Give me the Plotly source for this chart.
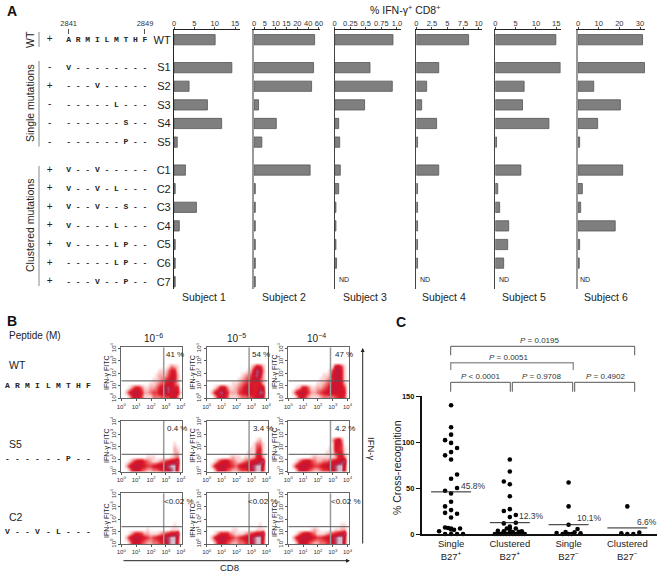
# Cross-recognition figure: bar panels (A), flow plots (B), dot plot (C)
import plotly.graph_objects as go
import numpy as np

W, H = 666, 578
FONT = "Liberation Sans"
MONO = "Liberation Mono"

# --- panel A data
row_names = ["WT", "S1", "S2", "S3", "S4", "S5", "C1", "C2", "C3", "C4", "C5", "C6", "C7"]
row_pos = [0, 1.5, 2.5, 3.5, 4.5, 5.5, 7, 8, 9, 10, 11, 12, 13]
row_signs = ["+", "-", "+", "-", "-", "-", "+", "+", "+", "+", "+", "+", "+"]
row_seqs = ["ARMILMTHF", "V--------", "---V-----", "-----L---", "------S--", "------P--",
            "V--V-----", "V--V-L---", "V--V--S--", "V----L---", "V----LP--", "-----LP--", "---V--P--"]

subject_1 = [10.1, 14.2, 3.7, 8.2, 11.7, 0.8, 2.8, 0.3, 5.5, 1.3, 0.3, 0.3, 0.3]
subject_2 = [52, 50, 46.4, 2.1, 10.3, 3.6, 43.7, 0.6, 0.6, 0.6, 0.6, 0.6, 0.6]
subject_3 = [0.936, 0.567, 0.925, 0.48, 0.064, 0.08, 0.09, 0.064, 0.02, 0.02, 0.02, 0.03, None]
subject_4 = [8.4, 3.6, 1.66, 0.86, 3.26, 0.2, 3.6, 0.2, 0.2, 0.2, 0.2, 0.2, None]
subject_5 = [14.9, 16.0, 7.1, 6.7, 13.2, 0.3, 6.3, 0.6, 1.07, 3.3, 3.05, 2.06, None]
subject_6 = [31.2, 32.2, 7.6, 20.5, 9.5, 0.8, 21.6, 2.1, 1.3, 18, 0.8, 0.6, None]

# subject 2 has a broken scale, so its ticks are evenly spaced by index
subject_2_ticks = [0, 5, 10, 15, 20, 40, 60]

# --- panel B data: density read per cell, top row first, 0 empty .. 9 densest
gate_x = 2.85
gate_y = 1.4
flow_ticks = [0, 1, 2, 3, 4]
E = "00000000000000000000"
flow_wt_6 = [E, E, E, E,
             "00000000000000013210", "00000000000011135510", "00000000000122246620",
             "00000000001123457520", "00000000011234566420", "00135531122356786550",
             "02577752234467685761", "00257641113334446730"]
flow_wt_5 = [E, E, E, E,
             "00000000000000136520", "00000000000001268730", "00000000000123478620",
             "00000000001234567420", "00000000112345555520", "00136631123467655760",
             "02578752224567656880", "00257641112334456760"]
flow_wt_4 = [E, E, E, E,
             "00000000000000167410", "00000000000001477510", "00000000000112677510",
             "00000000001123577510", "00000000011234666520", "00125531122346776640",
             "02577642234567666650", "00256421112333345640"]
flow_s5_6 = [E, E, E, E, E,
             "00000000000000000100", "00000000000000000210", "00000000000000000220",
             "00000000111000001230", "00135664321123456680",
             "02577765445677789960", "00257643223345678950"]
flow_s5_5 = [E, E, E, E,
             "00000000000000001200", "00000000000000013310", "00000000000000114510",
             "00000000000001115510", "00000001211011125620", "00135664321234566780",
             "02577765435677789960", "00257643223445689950"]
flow_s5_4 = [E, E, E, E,
             "00000000000000257300", "00000000000000166400", "00000000000001165410",
             "00000000000011145510", "00000001211111125630", "00135664322334566780",
             "02577765445677789960", "00257643223445689950"]
flow_c2_6 = [E, E, E, E, E, E, E,
             "00000000000000000100", "00000000100000001110", "00135542211123456680",
             "02577765434567789960", "00257643223345689950"]
flow_c2_5 = [E, E, E, E, E, E, E,
             "00000000000000000100", "00000000110000001110", "00135553211123456680",
             "02577765434567789960", "00257643223345689950"]
flow_c2_4 = [E, E, E, E, E, E, E,
             "00000000000000000110", "00000001210000011220", "00135664311123456680",
             "02577776544567789960", "00257643223345689950"]
flow_pct = ["41 %", "54 %", "47 %", "0.4 %", "3.4 %", "4.2 %", "&lt;0.02 %", "&lt;0.02 %", "&lt;0.02 %"]

# --- panel C data
c_cats = ["Single<br>B27<sup>+</sup>", "Clustered<br>B27<sup>+</sup>",
          "Single<br>B27<sup>\u2212</sup>", "Clustered<br>B27<sup>\u2212</sup>"]
c_means = [45.8, 12.3, 10.1, 6.6]
single_pos = [140, 116, 108, 102, 99, 93.5, 89, 85.5, 81, 64.6, 60, 50, 47, 44, 35, 30, 26, 23, 22, 18,
              7, 6.5, 5, 6, 3, 6, 4.5, 0, 0, 0, 0]
single_pos_slot = [0, 0, 0, -2, 0, 2, 0, -2, 0, 2, 0, 2, -2, 0, 0, -2, 0, -2, 2, 0,
                   -2, -1, 0, 3, -4, 0, 1, -2, 0, 2, 4]
clustered_pos = [81, 68, 57, 54, 41, 27, 25, 20.6, 18.4, 11.5, 12.3, 8, 6, 6, 6, 3.6, 3, 3,
                 0, 0, 0, 0, 0, 0, 0, 0, 0, 0, 0, 2, 2, 2, 2.5]
clustered_pos_slot = [0, 0, -2, 0, 0, 0, -2, 2, 0, -2, 2, 0, -1, 2, 0, -4, -2, 4,
                      -5, -4, -3, -2, -1, 0, 1, 2, 3, 4, 5, -2, 0, 1, 3]
single_neg = [56, 30, 10, 5.5, 1, 2, 1.8, 0, 0, 0, 0.7]
single_neg_slot = [0, 0, 0, 3, -4, -1, 2, -2, 0, 1, 4]
clustered_neg = [30, 0.7, 0, 0, 1.5]
clustered_neg_slot = [0, -2, 0, 2, 4]


def px(x):
    return x / W


def py(y):
    return 1 - y / H


fig = go.Figure()
annotations = []
shapes = []
axis_count = 0


def new_axes(x0, x1, y0, y1, xopts, yopts):
    # one pair of axes placed by pixel box
    global axis_count
    axis_count += 1
    n = "" if axis_count == 1 else str(axis_count)
    xopts = dict(xopts, domain=[px(x0), px(x1)], anchor="y" + n)
    yopts = dict(yopts, domain=[py(y1), py(y0)], anchor="x" + n)
    fig.update_layout(**{"xaxis" + n: xopts, "yaxis" + n: yopts})
    return "x" + n, "y" + n


def label(x, y, text, size=10, color="#222", xanchor="center", angle=0, **kw):
    annotations.append(dict(x=px(x), y=py(y), xref="paper", yref="paper", text=text, showarrow=False,
                            xanchor=xanchor, yanchor="middle", textangle=angle,
                            font=dict(size=size, color=color, family=kw.get("family", FONT),
                                      weight=kw.get("weight", "normal"))))


def line(x0, y0, x1, y1, color="#555", width=1):
    shapes.append(dict(type="line", xref="paper", yref="paper", x0=px(x0), y0=py(y0), x1=px(x1), y1=py(y1),
                       line=dict(color=color, width=width)))


def bracket(x0, x1, top, bottom, color="#555", width=1):
    shapes.append(dict(type="path", xref="paper", yref="paper",
                       path=f"M {px(x0)} {py(bottom)} L {px(x0)} {py(top)} L {px(x1)} {py(top)} L {px(x1)} {py(bottom)}",
                       line=dict(color=color, width=width)))


# --- A: bars
row_top, row_bottom = 29.5, 289
row_range = [13.39, -0.548]
subject_2_x = [None if v is None else float(np.interp(v, subject_2_ticks, range(len(subject_2_ticks))))
               for v in subject_2]
panels = [
    (subject_1, 174, 240, 16.2, [0, 5, 10, 15], ["0", "5", "10", "15"], "#222", 1.2),
    (subject_2_x, 254, 319.5, 6.05, list(range(7)), [str(t) for t in subject_2_ticks], "#999", 1.6),
    (subject_3, 334.7, 400.7, 1.06, [0, 0.25, 0.5, 0.75, 1], ["0", "0.25", "0.5", "0.75", "1.0"], "#444", 1.2),
    (subject_4, 416.3, 481.7, 10.5, [0, 2.5, 5, 7.5, 10], ["0", "2.5", "5", "7.5", "10"], "#444", 1.2),
    (subject_5, 495.3, 560.7, 16.1, [0, 5, 10, 15], ["0", "5", "10", "15"], "#444", 1.2),
    (subject_6, 578, 645, 32.4, [0, 10, 20, 30], ["0", "10", "20", "30"], "#999", 1.6),
]
for i, (vals, x0, x1, xmax, tv, tt, col, lw) in enumerate(panels):
    yopts = dict(range=row_range, showgrid=False, zeroline=False, showline=True, linecolor=col, linewidth=lw,
                 tickvals=row_pos, ticktext=row_names if i == 0 else None, showticklabels=i == 0,
                 ticks="", tickfont=dict(size=11, color="#222"))
    xopts = dict(range=[0, xmax], side="top", showgrid=False, zeroline=False, showline=True, linecolor="#222",
                 linewidth=1, ticks="outside", ticklen=2, tickwidth=0.7, tickcolor="#444", tickvals=tv, ticktext=tt,
                 ticklabelstandoff=-2, tickfont=dict(size=7.5, color="#333"))
    xa, ya = new_axes(x0, x1, row_top, row_bottom, xopts, yopts)
    fig.add_trace(go.Bar(x=vals, y=row_pos, orientation="h", width=0.55, xaxis=xa, yaxis=ya,
                         marker=dict(color="#7f7f7f", line=dict(color="#555", width=0.8))))

# peptide table on its own scale of residue numbers
xa, ya = new_axes(40.1, 154.5, row_top, row_bottom,
                  dict(range=[2838, 2850], side="top", showgrid=False, zeroline=False, showline=False,
                       ticks="outside", ticklen=5, tickwidth=0.7, tickcolor="#555", tickvals=[2841, 2849],
                       tickformat="d", tickfont=dict(size=7.5, color="#333")),
                  dict(range=row_range, visible=False))
fig.update_layout(**{"xaxis" + xa[1:]: dict(anchor="free", position=py(34))})
res_x, res_y, res_t = [], [], []
for pos, seq in zip(row_pos, row_seqs):
    for j, ch in enumerate(seq):
        res_x.append(2841 + j)
        res_y.append(pos)
        res_t.append(ch)
fig.add_trace(go.Scatter(x=res_x, y=res_y, text=res_t, mode="text", xaxis=xa, yaxis=ya,
                         textfont=dict(family=MONO, size=8, color="#222", weight="bold")))
fig.add_trace(go.Scatter(x=[2839] * len(row_pos), y=row_pos, text=row_signs, mode="text", xaxis=xa, yaxis=ya,
                         textfont=dict(size=10, color="#222")))

label(12, 11, "A", size=14, weight="bold", color="#111")
label(405, 9, "% IFN-\u03b3<sup>+</sup> CD8<sup>+</sup>", size=10.5)
label(30, 40, "WT", size=10.5, angle=-90)
label(30, 103, "Single mutations", size=10.5, angle=-90)
label(30, 226, "Clustered mutations", size=10.5, angle=-90)
line(39, 32, 39, 47, "#888")
line(39, 61, 39, 146.5, "#888")
line(39, 166, 39, 286, "#888")
for name, cx in zip(["Subject 1", "Subject 2", "Subject 3", "Subject 4", "Subject 5", "Subject 6"],
                    [203.5, 284, 364.8, 443.8, 523.8, 605.8]):
    label(cx, 297, name, size=10.5)
for nx in [343.7, 425, 504, 585]:
    label(nx, 279, "ND", size=7)

# --- B: flow plots
flow_scale = [[0, "#ffffff"], [1 / 9, "#fbd5d5"], [2 / 9, "#f7a8a8"], [3 / 9, "#ee6d70"], [4 / 9, "#e63c44"],
              [5 / 9, "#dc1c2a"], [6 / 9, "#d4142a"], [7 / 9, "#c2183a"], [8 / 9, "#b24a6e"], [1, "#d8bcc8"]]
flow_cols = [(121.3, 182.3), (206.7, 267.7), (288.3, 349)]
flow_rows = [(347.3, 398.3), (420.7, 471.7), (493.3, 544)]
flow_grid = [flow_wt_6, flow_wt_5, flow_wt_4, flow_s5_6, flow_s5_5, flow_s5_4, flow_c2_6, flow_c2_5, flow_c2_4]
flow_ticktext = [f"10<sup>{t}</sup>" for t in flow_ticks]
cell_x = [(c + 0.5) * 4.1 / 20 for c in range(20)]
cell_y = [(11 - r + 0.5) * 4.1 / 12 for r in range(12)]
pct_left = [[164.3, 250, 332.7], [165, 250.7, 332.7], [161.7, 245.7, 329]]
pct_y = [354.3, 428.3, 501]
title_x = [107, 192.7, 275]
title_y = [372, 445, 520]
for r, (y0, y1) in enumerate(flow_rows):
    for c, (x0, x1) in enumerate(flow_cols):
        axis = dict(range=[0, 4.1], showgrid=False, zeroline=False, showline=True, mirror=True, linecolor="#666",
                    linewidth=1, ticks="outside", ticklen=2, tickwidth=0.6, tickcolor="#555", tickvals=flow_ticks,
                    ticktext=flow_ticktext, tickfont=dict(size=6, color="#333"))
        xa, ya = new_axes(x0, x1, y0, y1, axis, dict(axis, tickangle=-90))
        z = [[int(ch) for ch in row] for row in flow_grid[r * 3 + c]]
        fig.add_trace(go.Heatmap(x=cell_x, y=cell_y, z=z, zmin=0, zmax=9, zsmooth="best",
                                 colorscale=flow_scale, showscale=False, xaxis=xa, yaxis=ya))
        fig.add_trace(go.Scatter(x=[gate_x, gate_x], y=[0, 4.1], mode="lines", xaxis=xa, yaxis=ya,
                                 line=dict(color="#999", width=1.5)))
        fig.add_trace(go.Scatter(x=[0, 4.1], y=[gate_y, gate_y], mode="lines", xaxis=xa, yaxis=ya,
                                 line=dict(color="#555", width=1)))
        label(pct_left[r][c], pct_y[r], flow_pct[r * 3 + c], size=8, xanchor="left")
        label(title_x[c], title_y[r], "IFN-\u03b3 FITC", size=7, angle=-90)

label(12, 321, "B", size=14, weight="bold", color="#111")
label(7, 335, "Peptide (M)", size=10, xanchor="left")
for cx, txt in zip([153, 236, 316], ["10<sup>\u22126</sup>", "10<sup>\u22125</sup>", "10<sup>\u22124</sup>"]):
    label(cx, 338, txt, size=10)
flow_seqs = [("WT", 365, "ARMILMTHF", 385), ("S5", 444, "------P--", 458.7), ("C2", 517, "V--V-L---", 531)]
for name, ny, seq, sy in flow_seqs:
    label(7, ny, name, size=10.5, xanchor="left")
    for j, ch in enumerate(seq):
        label(7.3 + 10.2 * j, sy, ch, size=8, family=MONO, weight="bold")
annotations.append(dict(x=px(350), y=py(560.7), xref="paper", yref="paper", ax=-228, ay=0, text="", showarrow=True,
                        arrowhead=2, arrowsize=0.8, arrowwidth=1, arrowcolor="#222"))
annotations.append(dict(x=px(362.7), y=py(348), xref="paper", yref="paper", ax=0, ay=197, text="", showarrow=True,
                        arrowhead=2, arrowsize=0.8, arrowwidth=1, arrowcolor="#222"))
label(229.5, 567, "CD8", size=9.5)
label(372, 449, "IFN-\u03b3", size=9.5, angle=90)

# --- C: dot plot
xa, ya = new_axes(421.7, 656.7, 396, 534,
                  dict(range=[-0.5, 3.5], showgrid=False, zeroline=False, showline=True, linecolor="#111", linewidth=1.6,
                       ticks="", tickvals=[0, 1, 2, 3], ticktext=c_cats, tickfont=dict(size=9.5, color="#222")),
                  dict(range=[0, 150], showgrid=False, zeroline=False, showline=True, linecolor="#111", linewidth=1.6,
                       ticks="outside", ticklen=4, tickwidth=1.4, tickcolor="#111", tickvals=[0, 50, 100, 150],
                       tickfont=dict(size=7.5, color="#111", weight="bold")))
slot_width = 0.051
groups = [(single_pos, single_pos_slot), (clustered_pos, clustered_pos_slot),
          (single_neg, single_neg_slot), (clustered_neg, clustered_neg_slot)]
for i, (vals, slots) in enumerate(groups):
    fig.add_trace(go.Scatter(x=[i + s * slot_width for s in slots], y=vals, mode="markers", xaxis=xa, yaxis=ya,
                             cliponaxis=False, marker=dict(size=4.6, color="#000")))
    fig.add_trace(go.Scatter(x=[i - 0.34, i + 0.34], y=[c_means[i], c_means[i]], mode="lines", xaxis=xa, yaxis=ya,
                             line=dict(color="#222", width=1)))
for mx, my, txt in zip([474, 531.7, 589.3, 647], [485.7, 516.3, 517.7, 521.7], c_means):
    label(mx, my, f"{txt}%", size=8.5, color="#333")
label(397, 468, "% Cross-recognition", size=10.5, angle=-90)
label(401, 322, "C", size=14, weight="bold", color="#111")

bracket(450.7, 634.7, 346.3, 355.3)
bracket(450.7, 573.3, 362.7, 370, "#999", 1.5)
bracket(450.7, 510.3, 382.3, 391.7)
bracket(512.3, 572.7, 382.3, 391.7)
bracket(574.7, 634.7, 382.3, 391.7)
p_labels = [(539, 340.7, "= 0.0195"), (508.7, 357.3, "= 0.0051"), (480.7, 376.3, "&lt; 0.0001"),
            (541.7, 376.3, "= 0.9708"), (605, 376.3, "= 0.4902")]
for lx, ly, txt in p_labels:
    label(lx, ly, f"<i>P</i> {txt}", size=8, color="#333")

# template axes push the margins out unless autoexpand is off
fig.update_layout(width=W, height=H, margin=dict(l=0, r=0, t=0, b=0, autoexpand=False), autosize=False, showlegend=False,
                  paper_bgcolor="white", plot_bgcolor="rgba(0,0,0,0)", font=dict(family=FONT),
                  barmode="overlay", annotations=annotations, shapes=shapes)

# the page's default body margin would shift the whole figure
fig.write_html("out.html", config={"displayModeBar": False}, post_script="document.body.style.margin='0';")
